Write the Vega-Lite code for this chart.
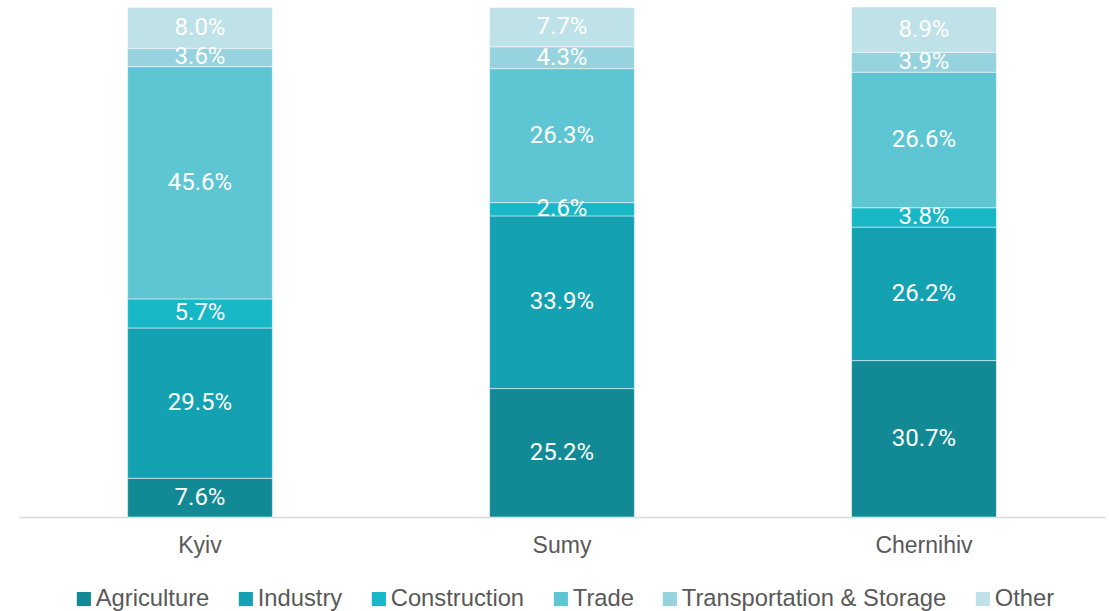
{
  "$schema": "https://vega.github.io/schema/vega-lite/v6.json",
  "autosize": "none",
  "width": 1086,
  "height": 510,
  "padding": {"left": 19, "top": 7, "right": 4, "bottom": 94},
  "background": "white",
  "config": {"view": {"stroke": null}},
  "data": {
    "values": [
      {"region": "Kyiv", "sector": "Agriculture", "value": 7.6},
      {"region": "Kyiv", "sector": "Industry", "value": 29.5},
      {"region": "Kyiv", "sector": "Construction", "value": 5.7},
      {"region": "Kyiv", "sector": "Trade", "value": 45.6},
      {"region": "Kyiv", "sector": "Transportation & Storage", "value": 3.6},
      {"region": "Kyiv", "sector": "Other", "value": 8.0},
      {"region": "Sumy", "sector": "Agriculture", "value": 25.2},
      {"region": "Sumy", "sector": "Industry", "value": 33.9},
      {"region": "Sumy", "sector": "Construction", "value": 2.6},
      {"region": "Sumy", "sector": "Trade", "value": 26.3},
      {"region": "Sumy", "sector": "Transportation & Storage", "value": 4.3},
      {"region": "Sumy", "sector": "Other", "value": 7.7},
      {"region": "Chernihiv", "sector": "Agriculture", "value": 30.7},
      {"region": "Chernihiv", "sector": "Industry", "value": 26.2},
      {"region": "Chernihiv", "sector": "Construction", "value": 3.8},
      {"region": "Chernihiv", "sector": "Trade", "value": 26.6},
      {"region": "Chernihiv", "sector": "Transportation & Storage", "value": 3.9},
      {"region": "Chernihiv", "sector": "Other", "value": 8.9}
    ]
  },
  "transform": [
    {"calculate": "indexof(['Agriculture','Industry','Construction','Trade','Transportation & Storage','Other'], datum.sector)", "as": "ord"},
    {"stack": "value", "groupby": ["region"], "sort": [{"field": "ord", "order": "ascending"}], "as": ["v0", "v1"]},
    {"calculate": "(datum.v0 + datum.v1) / 2", "as": "vmid"},
    {"calculate": "format(datum.value, '.1f') + '%'", "as": "lbl"}
  ],
  "encoding": {
    "x": {
      "field": "region",
      "type": "nominal",
      "sort": ["Kyiv", "Sumy", "Chernihiv"],
      "scale": {"paddingInner": 0.6, "paddingOuter": 0.3},
      "axis": {
        "title": null,
        "labelAngle": 0,
        "ticks": false,
        "domainColor": "#D9D9D9",
        "domainWidth": 1.5,
        "labelFont": "Liberation Sans",
        "labelFontSize": 23,
        "labelColor": "#595959",
        "labelPadding": 17
      }
    }
  },
  "layer": [
    {
      "mark": {"type": "bar", "stroke": "#ffffff", "strokeOpacity": 0.5, "strokeWidth": 1},
      "encoding": {
        "y": {"field": "v0", "type": "quantitative", "scale": {"domain": [0, 100.1]}, "axis": null},
        "y2": {"field": "v1"},
        "color": {
          "field": "sector",
          "type": "nominal",
          "sort": ["Agriculture", "Industry", "Construction", "Trade", "Transportation & Storage", "Other"],
          "scale": {
            "domain": ["Agriculture", "Industry", "Construction", "Trade", "Transportation & Storage", "Other"],
            "range": ["#118A95", "#14A2B3", "#17B7C6", "#5EC6D3", "#96D3DE", "#BEE2E8"]
          },
          "legend": {
            "title": null,
            "orient": "none",
            "direction": "horizontal",
            "legendX": 53,
            "legendY": 580,
            "symbolType": "square",
            "symbolSize": 200,
            "symbolStrokeWidth": 0,
            "labelFont": "Liberation Sans",
            "labelFontSize": 23.75,
            "labelColor": "#595959",
            "labelOffset": 0,
            "columnPadding": 24,
            "labelLimit": 400
          }
        }
      }
    },
    {
      "mark": {"type": "text", "color": "white", "font": "Roboto", "fontSize": 24, "baseline": "middle", "align": "center"},
      "encoding": {
        "y": {"field": "vmid", "type": "quantitative", "scale": {"domain": [0, 100.1]}},
        "text": {"field": "lbl"}
      }
    }
  ]
}
